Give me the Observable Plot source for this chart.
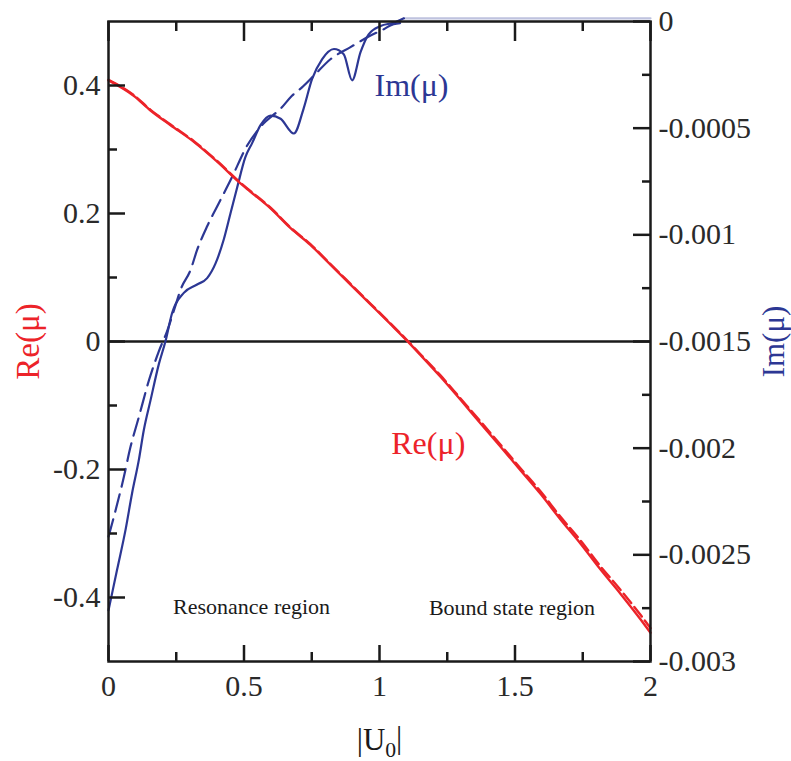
<!DOCTYPE html>
<html>
<head>
<meta charset="utf-8">
<script src="https://cdn.jsdelivr.net/npm/d3@7"></script>
<script src="https://cdn.jsdelivr.net/npm/@observablehq/plot@0.6"></script>
<style>
  body { margin: 0; background: #fff; }
  #chart svg { display: block; }
</style>
</head>
<body>
<div id="chart"></div>
<script>
// ---------- data ----------
// Re(mu) curves (left axis)
const reU      = [0, 0.093, 0.155, 0.229, 0.315, 0.401, 0.487, 0.524, 0.598, 0.672, 0.745, 0.819, 0.893, 0.967, 1.041, 1.102, 1.151, 1.225, 1.299, 1.373, 1.446, 1.52, 1.594, 1.668, 1.742, 1.815, 1.889, 1.963, 2.0];
const reSolid  = [0.408, 0.384, 0.361, 0.338, 0.312, 0.281, 0.247, 0.234, 0.208, 0.177, 0.151, 0.12, 0.089, 0.058, 0.027, 0.001, -0.021, -0.055, -0.091, -0.128, -0.164, -0.201, -0.238, -0.278, -0.316, -0.356, -0.394, -0.434, -0.455];
const reDashed = [0.409, 0.385, 0.362, 0.339, 0.313, 0.282, 0.248, 0.235, 0.209, 0.178, 0.152, 0.121, 0.090, 0.059, 0.028, 0.002, -0.020, -0.053, -0.089, -0.125, -0.161, -0.198, -0.234, -0.274, -0.311, -0.351, -0.388, -0.427, -0.448];

// Im(mu) curves (right axis)
const imSolidU = [0, 0.032, 0.063, 0.087, 0.112, 0.13, 0.155, 0.186, 0.21, 0.235, 0.278, 0.327, 0.364, 0.395, 0.425, 0.45, 0.475, 0.505, 0.53, 0.561, 0.598, 0.635, 0.684, 0.72, 0.751, 0.788, 0.832, 0.868, 0.899, 0.93, 0.96, 1.004, 1.052, 1.09];
const imSolid  = [-0.00276, -0.002568, -0.002382, -0.002211, -0.002055, -0.001917, -0.001776, -0.001605, -0.0015, -0.001365, -0.001272, -0.001233, -0.001203, -0.001134, -0.001023, -0.0009, -0.000777, -0.000636, -0.00057, -0.000486, -0.000441, -0.000456, -0.000525, -0.000408, -0.00027, -0.000177, -0.000129, -0.000153, -0.000276, -0.000144, -0.00006, -0.000021, -0.000006, 0.000015];
// flat tail of the solid Im curve (drawn faint along the top edge)
const imTailU  = [1.09, 1.5, 2.0];
const imTail   = [0.000015, 0.000015, 0.000015];
const imDashU  = [0, 0.016, 0.057, 0.081, 0.112, 0.149, 0.186, 0.216, 0.247, 0.266, 0.303, 0.327, 0.364, 0.407, 0.456, 0.51, 0.56, 0.64, 0.677, 0.714, 0.757, 0.819, 0.893, 0.967, 1.016, 1.052, 1.09];
const imDashed = [-0.002415, -0.00234, -0.002133, -0.001995, -0.001854, -0.001683, -0.001545, -0.001452, -0.001332, -0.001257, -0.001164, -0.001071, -0.00096, -0.000852, -0.000729, -0.000585, -0.000495, -0.000402, -0.000348, -0.000309, -0.000255, -0.000177, -0.00012, -0.000066, -0.000036, -0.000012, -0.000006];

// ticks
const xMajor = [0, 0.5, 1, 1.5, 2];
const xMajorLabels = ["0", "0.5", "1", "1.5", "2"];
const xMinor = [0.25, 0.75, 1.25, 1.75];
const reMajor = [-0.4, -0.2, 0, 0.2, 0.4];
const reMajorLabels = ["-0.4", "-0.2", "0", "0.2", "0.4"];
const reMinor = [-0.3, -0.1, 0.1, 0.3];
const imMajor = [0, -0.0005, -0.001, -0.0015, -0.002, -0.0025, -0.003];
const imMajorLabels = ["0", "-0.0005", "-0.001", "-0.0015", "-0.002", "-0.0025", "-0.003"];
const imMinor = [-0.00025, -0.00075, -0.00125, -0.00175, -0.00225, -0.00275];

// annotations inside the plot
const notes = [
  {u: 1.118, r: 0.40, text: "Im(μ)", color: "blue", size: 32},
  {u: 1.18, r: -0.16, text: "Re(μ)", color: "red", size: 32},
  {u: 0.528, r: -0.415, text: "Resonance region", color: "black", size: 22},
  {u: 1.489, r: -0.416, text: "Bound state region", color: "black", size: 22}
];

// ---------- chart ----------
const RED = "#ec2329", BLUE = "#2c3794", INK = "#1a1a1a";
const colorOf = {red: RED, blue: BLUE, black: INK};
// right axis Im(mu) in [-0.003, 0] shares the frame with Re(mu) in [-0.5, 0.5]
const toR = im => im / 0.003 + 0.5;

const W = 791, H = 761, mL = 108, mR = 141, mT = 21, mB = 100;
const pw = W - mL - mR, ph = H - mT - mB;

const reSolidData = reU.map((u, i) => ({u, r: reSolid[i]}));
const reDashData = reU.map((u, i) => ({u, r: reDashed[i]}));
const imSolidData = imSolidU.map((u, i) => ({u, r: toR(imSolid[i])}));
const imTailData = imTailU.map((u, i) => ({u, r: toR(imTail[i])}));
const imDashData = imDashU.map((u, i) => ({u, r: toR(imDashed[i])}));
const imMajorR = imMajor.map(toR);

const chart = Plot.plot({
  width: W, height: H,
  marginLeft: mL, marginRight: mR, marginTop: mT, marginBottom: mB,
  x: {domain: [0, 2], axis: null},
  y: {domain: [-0.5, 0.5], axis: null},
  style: {fontFamily: "'Liberation Serif', 'Times New Roman', serif", fontSize: "30px", background: "#fff", color: INK},
  marks: [
    Plot.ruleY([0], {stroke: INK, strokeWidth: 2.5}),
    Plot.line(imTailData, {x: "u", y: "r", stroke: BLUE, strokeOpacity: 0.3, strokeWidth: 2.2}),
    Plot.line(imDashData, {x: "u", y: "r", stroke: BLUE, strokeWidth: 2.2, strokeDasharray: "18,8", curve: "monotone-x"}),
    Plot.line(imSolidData, {x: "u", y: "r", stroke: BLUE, strokeWidth: 2.2, curve: "monotone-x"}),
    Plot.line(reDashData, {x: "u", y: "r", stroke: RED, strokeWidth: 2.4, strokeDasharray: "12,5", curve: "monotone-x"}),
    Plot.line(reSolidData, {x: "u", y: "r", stroke: RED, strokeWidth: 2.4, curve: "monotone-x"}),
    // inward tick marks
    Plot.tickX(xMajor, {x: d => d, insetTop: ph - 16, stroke: INK, strokeWidth: 2.5}),
    Plot.tickX(xMinor, {x: d => d, insetTop: ph - 9, stroke: INK, strokeWidth: 2.5}),
    Plot.tickX(xMajor, {x: d => d, insetBottom: ph - 20, stroke: INK, strokeWidth: 2.5}),
    Plot.tickX(xMinor, {x: d => d, insetBottom: ph - 10, stroke: INK, strokeWidth: 2.5}),
    Plot.tickY(reMajor, {y: d => d, insetRight: pw - 17, stroke: INK, strokeWidth: 2.5}),
    Plot.tickY(reMinor, {y: d => d, insetRight: pw - 9, stroke: INK, strokeWidth: 2.5}),
    Plot.tickY(imMajorR, {y: d => d, insetLeft: pw - 17, stroke: INK, strokeWidth: 2.5}),
    Plot.tickY(imMinor.map(toR), {y: d => d, insetLeft: pw - 8, stroke: INK, strokeWidth: 2.5}),
    Plot.frame({stroke: INK, strokeWidth: 2.5}),
    // tick labels
    Plot.axisX(xMajor, {anchor: "bottom", tickSize: 0, tickPadding: 13, label: null, fontSize: 30, fill: "#2a2a2a",
      tickFormat: d => xMajorLabels[xMajor.indexOf(d)]}),
    Plot.axisY(reMajor, {anchor: "left", tickSize: 0, tickPadding: 8, label: null, fontSize: 30, fill: "#2a2a2a",
      tickFormat: d => reMajorLabels[reMajor.indexOf(d)]}),
    Plot.axisY(imMajorR, {anchor: "right", tickSize: 0, tickPadding: 8, label: null, fontSize: 30, fill: "#2a2a2a",
      tickFormat: d => imMajorLabels[imMajorR.indexOf(d)]}),
    // annotations
    Plot.text(notes, {x: "u", y: "r", text: "text", fill: d => colorOf[d.color], fontSize: d => d.size, textAnchor: "middle", lineAnchor: "middle"}),
    // axis titles
    Plot.text(["Re(μ)"], {frameAnchor: "left", dx: -80, rotate: -90, text: d => d, fill: RED, fontSize: 33, textAnchor: "middle", lineAnchor: "middle"}),
    Plot.text(["Im(μ)"], {frameAnchor: "right", dx: 124, rotate: -90, text: d => d, fill: BLUE, fontSize: 31, textAnchor: "middle", lineAnchor: "middle"}),
    Plot.text(["|U0|"], {frameAnchor: "bottom", dy: 79, text: d => d, fill: INK, fontSize: 31, textAnchor: "middle", lineAnchor: "middle"})
  ]
});

document.getElementById("chart").appendChild(chart);

// subscript for |U0|
d3.select(chart).selectAll("text").each(function() {
  if (this.textContent === "|U0|") {
    const t = d3.select(this);
    t.text(null);
    t.append("tspan").text("|U");
    t.append("tspan").attr("dy", "0.3em").attr("font-size", "70%").text("0");
    t.append("tspan").attr("dy", "-0.3em").text("|");
  }
});
</script>
</body>
</html>
